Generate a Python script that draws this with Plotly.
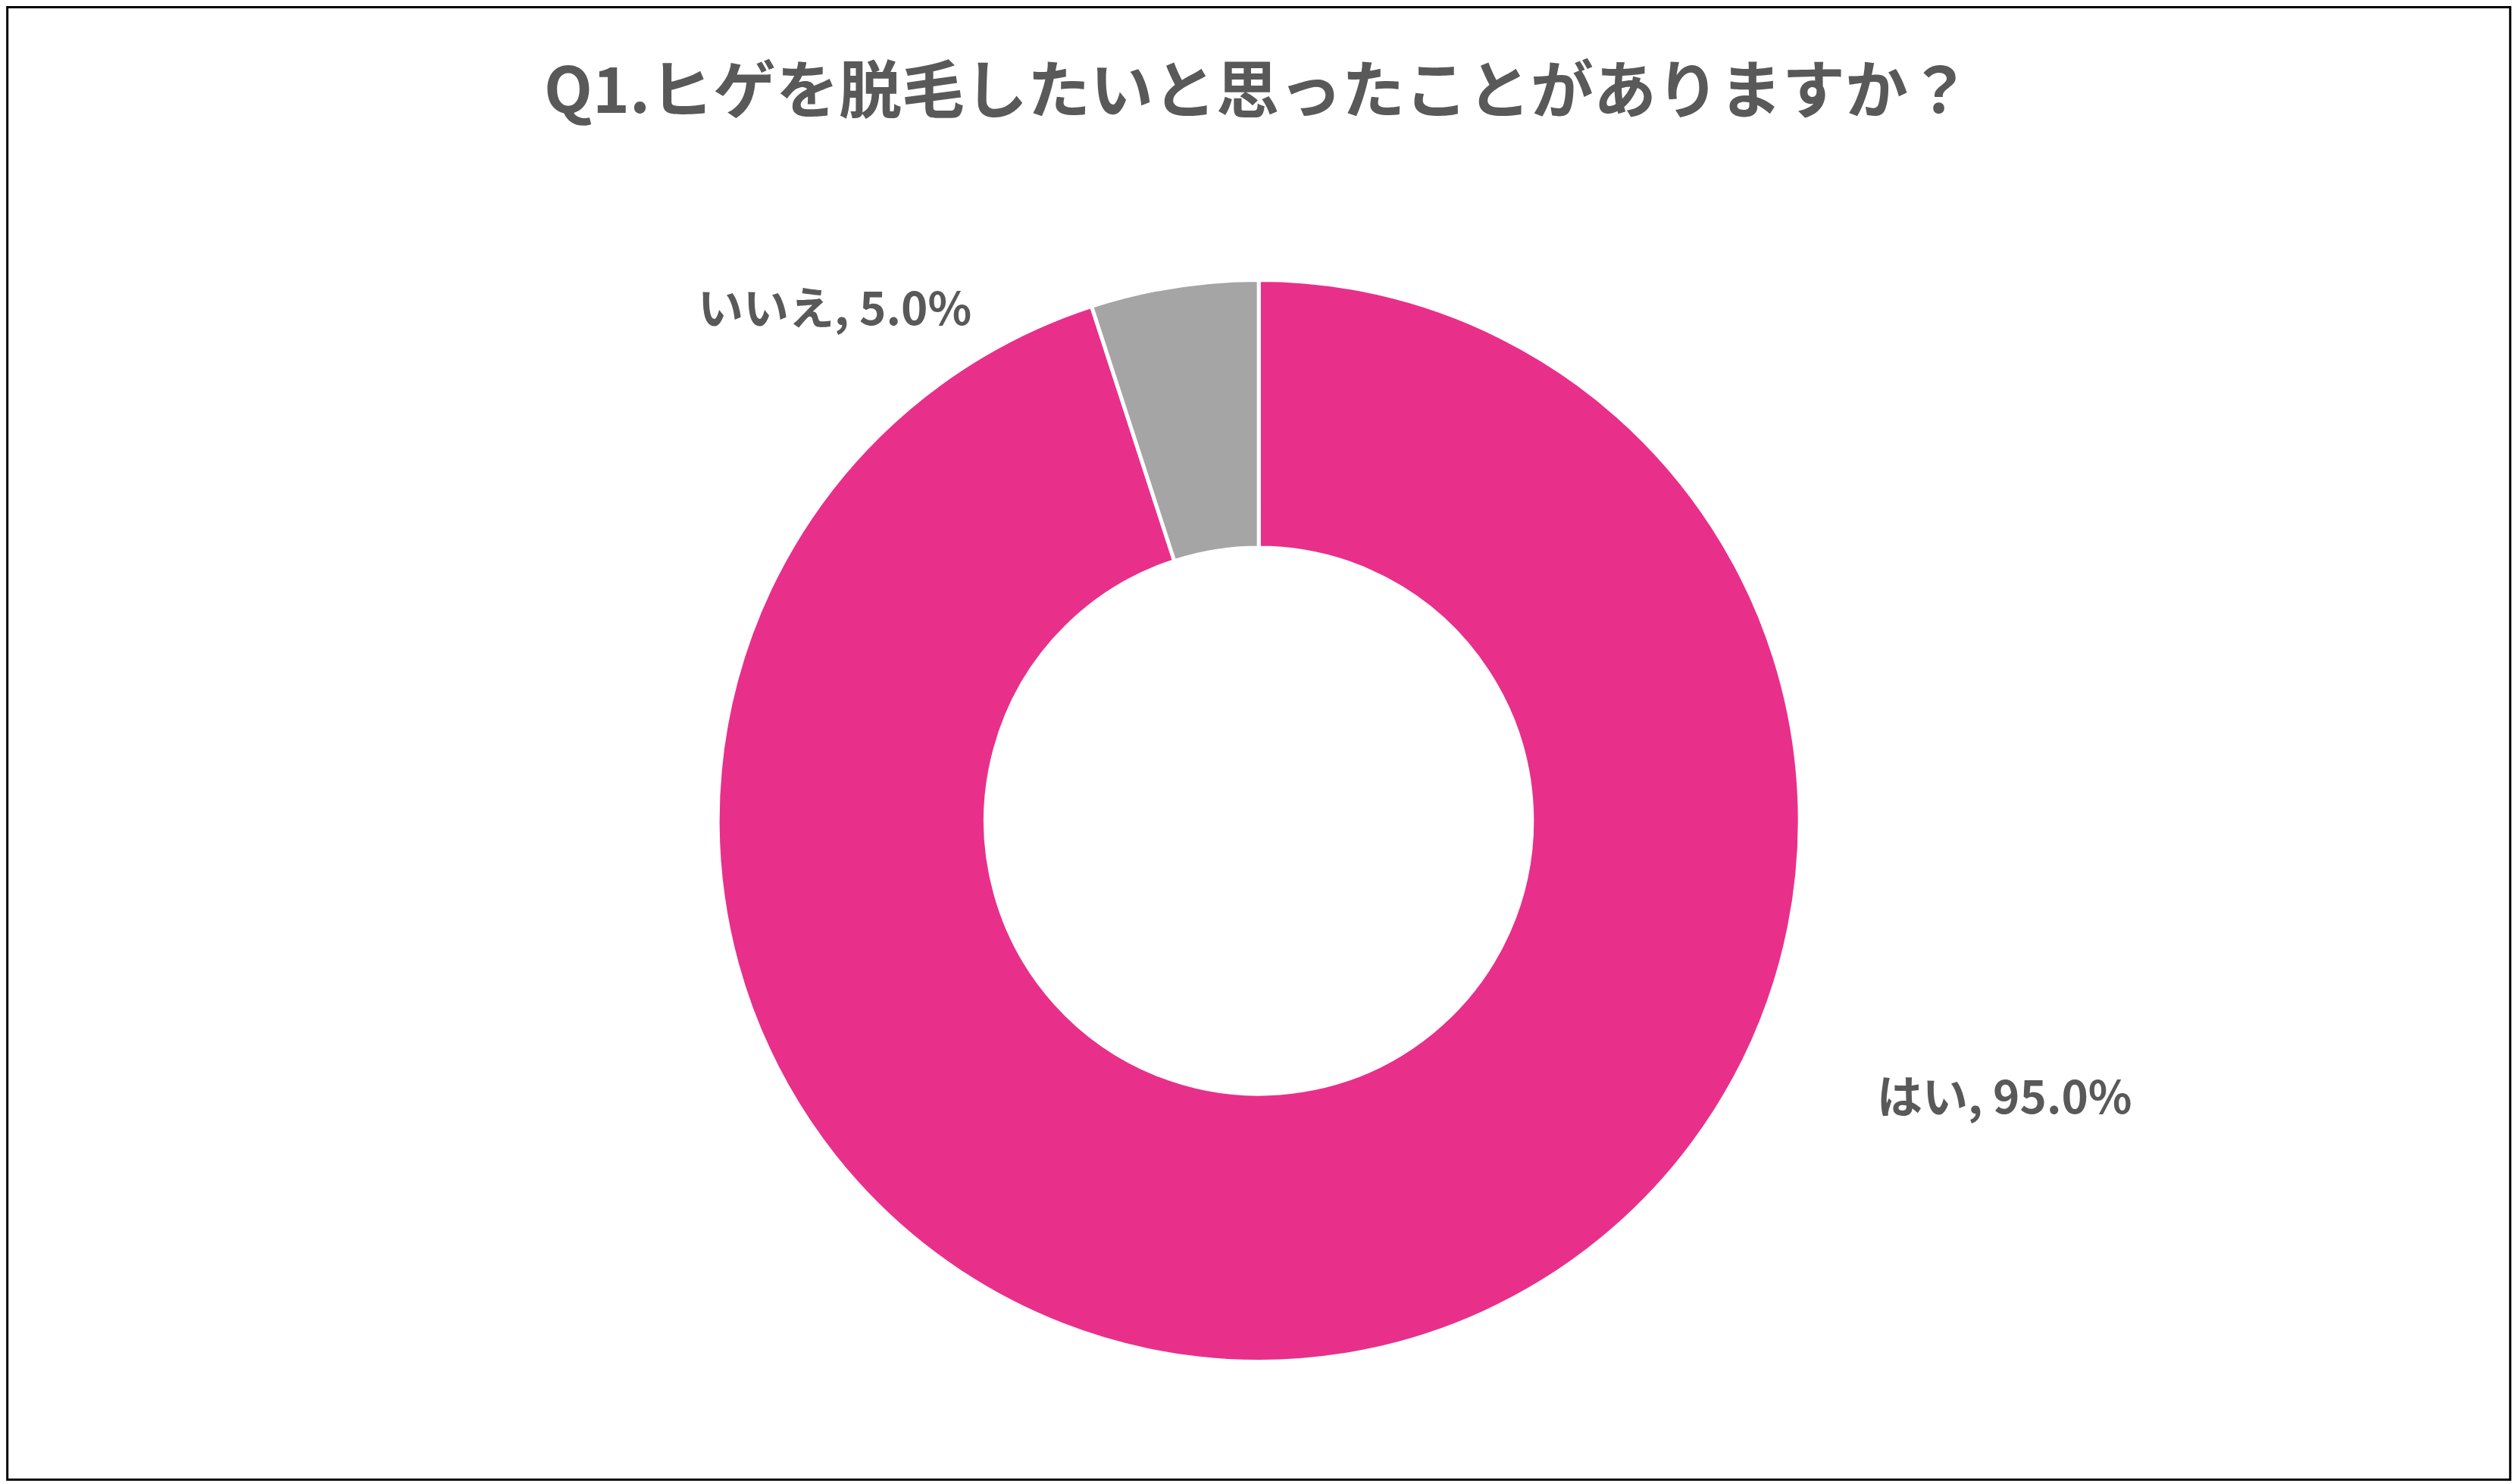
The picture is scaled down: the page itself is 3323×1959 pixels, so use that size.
import plotly.graph_objects as go

labels = ["はい", "いいえ"]
values = [95.0, 5.0]
colors = ["#E8308A", "#A5A5A5"]
title = "Q1.ヒゲを脱毛したいと思ったことがありますか？"
label_pos = [(0.845, 0.244), (0.274, 0.822)]

fig = go.Figure(go.Pie(
    labels=labels, values=values, hole=0.505, sort=False, direction="clockwise",
    rotation=0, marker=dict(colors=colors, line=dict(color="white", width=5)),
    textinfo="none", hoverinfo="label+percent",
    domain=dict(x=[0, 0.995], y=[0.0865, 0.8155]), showlegend=False))

for (x, y), lab, v in zip(label_pos, labels, values):
    fig.add_annotation(x=x, y=y, xref="paper", yref="paper", showarrow=False,
                       text=f"<b>{lab}, {v:.1f}%</b>",
                       font=dict(size=60, color="#595959", family="Noto Sans CJK JP"))

fig.add_shape(type="rect", xref="paper", yref="paper", x0=0.0005, y0=0.007, x1=0.9945, y1=0.9992,
              line=dict(color="black", width=3))

fig.update_layout(
    width=3323, height=1959, margin=dict(l=0, r=0, t=0, b=0),
    paper_bgcolor="white", plot_bgcolor="white",
    title=dict(text=f"<b>{title}</b>", x=0.497, xanchor="center", y=0.943, yanchor="middle",
               font=dict(size=83, color="#595959", family="Noto Sans CJK JP")))

fig.write_html("out.html")
